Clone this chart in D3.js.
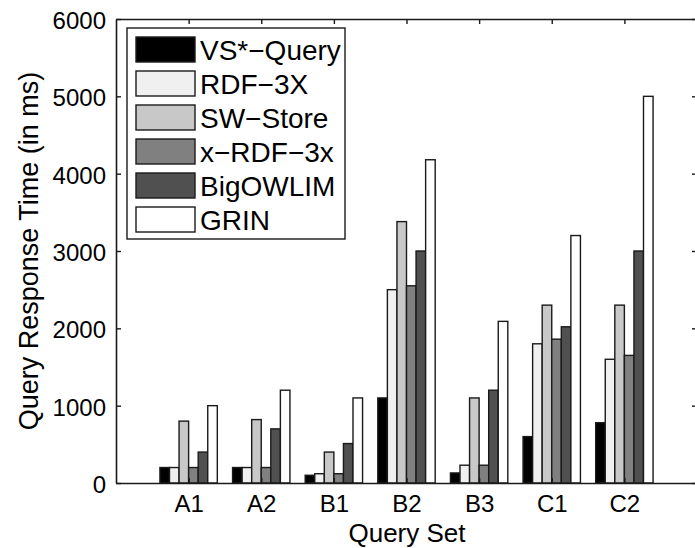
<!DOCTYPE html>
<html>
<head>
<meta charset="utf-8">
<script src="https://cdn.jsdelivr.net/npm/d3@7"></script>
<style>
  body { margin: 0; background: #fff; }
  svg { display: block; }
  text { font-family: "Liberation Sans", Arial, Helvetica, sans-serif; fill: #000; }
</style>
</head>
<body>
<svg id="chart" width="695" height="548"></svg>
<script>
// query sets on the x axis
const querySets = ["A1", "A2", "B1", "B2", "B3", "C1", "C2"];

// response times in ms, one array per system
const vsQuery  = [200, 200, 100, 1100, 130, 600, 780];
const rdf3x    = [200, 200, 120, 2500, 230, 1800, 1600];
const swStore  = [800, 820, 400, 3380, 1100, 2300, 2300];
const xRdf3x   = [200, 200, 120, 2550, 230, 1860, 1650];
const bigOwlim = [400, 700, 510, 3000, 1200, 2020, 3000];
const grin     = [1000, 1200, 1100, 4180, 2090, 3200, 5000];

const seriesNames = ["VS*\u2212Query", "RDF\u22123X", "SW\u2212Store", "x\u2212RDF\u22123x", "BigOWLIM", "GRIN"];
const seriesFill  = ["#000000", "#f0f0f0", "#c8c8c8", "#808080", "#505050", "#ffffff"];
const seriesVals  = [vsQuery, rdf3x, swStore, xRdf3x, bigOwlim, grin];

const yTicks = [0, 1000, 2000, 3000, 4000, 5000, 6000];

const svg = d3.select("#chart");

// plot box (right edge falls just outside the picture)
const plotLeft = 116, plotRight = 697, plotTop = 19, plotBottom = 483;

const x = d3.scaleLinear().domain([0, 8]).range([plotLeft, plotRight]);
const y = d3.scaleLinear().domain([0, 6000]).range([plotBottom, plotTop]);

// bars inside one group
const groupWidth = 0.79;
const inner = d3.scaleBand()
    .domain(d3.range(seriesNames.length))
    .range([-groupWidth / 2, groupWidth / 2])
    .padding(0);

const bars = svg.append("g");
seriesVals.forEach(function (vals, s) {
    bars.selectAll(null)
        .data(vals)
        .enter()
        .append("rect")
        .attr("x", function (d, i) { return x(i + 1 + inner(s)); })
        .attr("width", x(inner.bandwidth()) - x(0))
        .attr("y", function (d) { return y(d); })
        .attr("height", function (d) { return y(0) - y(d); })
        .attr("fill", seriesFill[s])
        .attr("stroke", "#1a1a1a")
        .attr("stroke-width", 1.4);
});

// axes: box with ticks on all sides pointing inward
const axisColor = "#1a1a1a";
const catPos = querySets.map(function (d, i) { return i + 1; });

const xBottom = d3.axisBottom(x).tickValues(catPos)
    .tickFormat(function (d) { return querySets[d - 1]; })
    .tickSizeInner(-5).tickSizeOuter(0).tickPadding(12);
const gxb = svg.append("g").attr("transform", "translate(0," + plotBottom + ")").call(xBottom);
gxb.selectAll("text").attr("font-size", 24).attr("dy", "0.71em");

const xTop = d3.axisTop(x).tickValues(catPos).tickFormat("")
    .tickSizeInner(-5).tickSizeOuter(0);
svg.append("g").attr("transform", "translate(0," + plotTop + ")").call(xTop);

const yLeft = d3.axisLeft(y).tickValues(yTicks).tickFormat(d3.format("d"))
    .tickSizeInner(-5).tickSizeOuter(0).tickPadding(10);
const gyl = svg.append("g").attr("transform", "translate(" + plotLeft + ",0)").call(yLeft);
gyl.selectAll("text").attr("font-size", 24).attr("dy", "0.4em");

const yRight = d3.axisRight(y).tickValues(yTicks).tickFormat("")
    .tickSizeInner(-5).tickSizeOuter(0);
svg.append("g").attr("transform", "translate(" + plotRight + ",0)").call(yRight);

svg.selectAll(".domain").attr("stroke", axisColor).attr("stroke-width", 1.6);
svg.selectAll(".tick line").attr("stroke", axisColor).attr("stroke-width", 1.4);
svg.selectAll(".tick text").attr("fill", "#000").attr("font-family", "Liberation Sans, Arial, sans-serif");

// axis titles
svg.append("text")
    .attr("x", 407)
    .attr("y", 542)
    .attr("text-anchor", "middle")
    .attr("font-size", 26)
    .text("Query Set");

svg.append("text")
    .attr("transform", "translate(38," + ((plotTop + plotBottom) / 2) + ") rotate(-90)")
    .attr("text-anchor", "middle")
    .attr("font-size", 27)
    .text("Query Response Time (in ms)");

// legend
const legend = svg.append("g");
legend.append("rect")
    .attr("x", 127).attr("y", 28)
    .attr("width", 218).attr("height", 211)
    .attr("fill", "#fff")
    .attr("stroke", axisColor)
    .attr("stroke-width", 1.4);

const rowStep = 34;
const rows = legend.selectAll("g.row")
    .data(seriesNames)
    .enter()
    .append("g")
    .attr("class", "row")
    .attr("transform", function (d, i) { return "translate(136," + (37 + i * rowStep) + ")"; });

rows.append("rect")
    .attr("width", 59).attr("height", 25)
    .attr("fill", function (d, i) { return seriesFill[i]; })
    .attr("stroke", "#1a1a1a")
    .attr("stroke-width", 1.4);

rows.append("text")
    .attr("x", 64)
    .attr("y", 23)
    .attr("font-size", 28)
    .text(function (d) { return d; });
</script>
</body>
</html>
